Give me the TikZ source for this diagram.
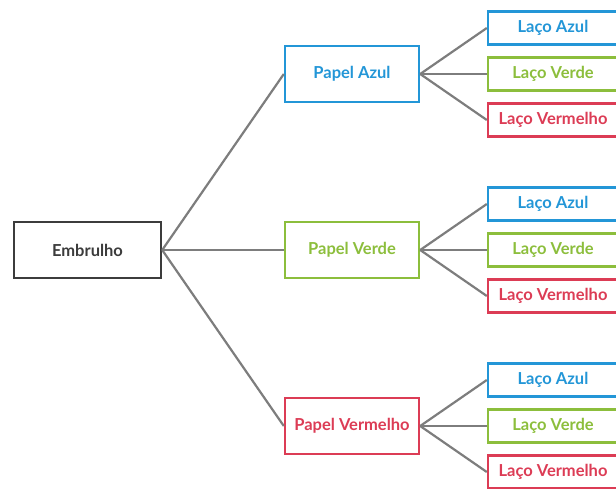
\documentclass[tikz,border=0pt]{standalone}
\usepackage{fontspec}
\setmainfont{Lato}
\usetikzlibrary{positioning}
\definecolor{azul}{RGB}{35,150,215}
\definecolor{verde}{RGB}{140,190,60}
\definecolor{vermelho}{RGB}{220,60,85}
\definecolor{linha}{RGB}{125,125,125}
\definecolor{escuro}{RGB}{60,60,60}

\begin{document}
\begin{tikzpicture}[x=1pt,y=-1pt,font=\bfseries\fontsize{16.5}{19}\selectfont]
  \tikzstyle{raiz}=[rectangle,line width=2.4pt,draw=escuro,text=escuro,minimum width=147pt,minimum height=56pt]
  \tikzstyle{papel}=[rectangle,line width=2.4pt,minimum width=134pt,minimum height=56pt]
  \tikzstyle{laco}=[rectangle,line width=2.4pt,minimum width=130pt,minimum height=33pt]
  \tikzstyle{ramo}=[draw=linha,line width=2.2pt]
  \clip (0,0) rectangle (616,488);

  % Root
  \node[raiz] (emb) at (87.5,250) {Embrulho};

  % Papel
  \node[papel, draw=azul, text=azul]         (pA) at (352,74)  {Papel Azul};
  \node[papel, draw=verde, text=verde]       (pV) at (352,250) {Papel Verde};
  \node[papel, draw=vermelho, text=vermelho] (pR) at (352,426) {Papel Vermelho};

  % Laco
  \foreach \p/\y in {A/74, V/250, R/426} {
    \node[laco, draw=azul, text=azul]         (\p-a) at (553,\y-46) {Laço Azul};
    \node[laco, draw=verde, text=verde]       (\p-v) at (553,\y)    {Laço Verde};
    \node[laco, draw=vermelho, text=vermelho] (\p-r) at (553,\y+46) {Laço Vermelho};
    \path[ramo] (p\p.east) -- (\p-a.west);
    \path[ramo] (p\p.east) -- (\p-v.west);
    \path[ramo] (p\p.east) -- (\p-r.west);
  }

  \path[ramo] (emb.east) -- (pA.west);
  \path[ramo] (emb.east) -- (pV.west);
  \path[ramo] (emb.east) -- (pR.west);
\end{tikzpicture}
\end{document}
